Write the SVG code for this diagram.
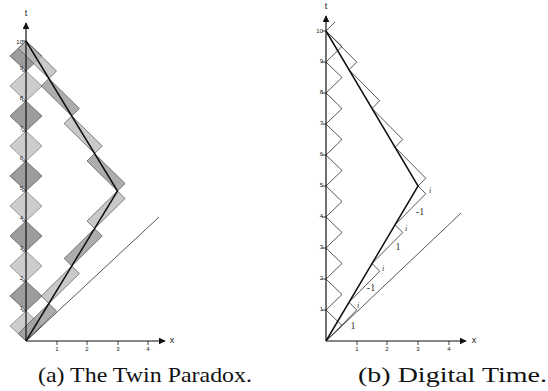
<svg xmlns="http://www.w3.org/2000/svg" width="548" height="391" viewBox="0 0 548 391">
<style>
.axis{stroke:#111;stroke-width:1.2;fill:none}
.tick{stroke:#111;stroke-width:0.8}
.world{stroke:#111;stroke-width:1.5;fill:none}
.light{stroke:#444;stroke-width:0.9;fill:none}
.dl{fill:#cdcdcd;stroke:#777;stroke-width:0.7}
.dd{fill:#9c9c9c;stroke:#555;stroke-width:0.7}
.mv{fill:#999;fill-opacity:0.8;stroke:#555;stroke-width:0.7}
.mvl{fill:#bbb;fill-opacity:0.8;stroke:#555;stroke-width:0.7}
.zig{stroke:#444;stroke-width:0.9;fill:none}
.sm{font-family:"Liberation Sans",Arial,sans-serif;font-size:6px;fill:#222}
.ax{font-family:"Liberation Sans",Arial,sans-serif;font-size:9px;fill:#222}
.lab{font-family:"Liberation Serif","Times New Roman",serif;font-size:10px;fill:#333}
.labi{font-family:"Liberation Serif","Times New Roman",serif;font-size:8px;font-style:italic;fill:#333}
.cap{font-family:"Liberation Serif","Times New Roman",serif;font-size:21px;fill:#111}
</style>
<defs>
<marker id="arr" viewBox="0 0 10 10" refX="9" refY="5" markerWidth="7" markerHeight="7" markerUnits="userSpaceOnUse" orient="auto">
<path d="M0,0 L10,5 L0,10 z" fill="#111"/>
</marker>
</defs>

<!-- Panel (a) -->
<g id="a-stationary">
<polygon class="dl" points="26,341 42,326 26,311 10,326"/>
<polygon class="dd" points="26,311 42,296 26,281 10,296"/>
<polygon class="dl" points="26,281 42,266 26,251 10,266"/>
<polygon class="dd" points="26,251 42,236 26,221 10,236"/>
<polygon class="dl" points="26,221 42,206 26,191 10,206"/>
<polygon class="dd" points="26,191 42,176 26,161 10,176"/>
<polygon class="dl" points="26,161 42,146 26,131 10,146"/>
<polygon class="dd" points="26,131 42,116 26,101 10,116"/>
<polygon class="dl" points="26,101 42,86 26,71 10,86"/>
<polygon class="dd" points="26,71 42,56 26,41 10,56"/>
</g>
<g id="a-moving">
<polygon class="mv" points="26,341 56.5,311 48.9,303.5 18.4,333.5"/>
<polygon class="mvl" points="48.9,303.5 79.4,273.5 71.75,266 41.25,296"/>
<polygon class="mv" points="71.75,266 102.25,236 94.6,228.5 64.1,258.5"/>
<polygon class="mvl" points="94.6,228.5 125.1,198.5 117.5,191 87,221"/>
<polygon class="mv" points="117.5,191 125.1,183.5 94.6,153.5 87,161"/>
<polygon class="mvl" points="94.6,153.5 102.25,146 71.75,116 64.1,123.5"/>
<polygon class="mv" points="71.75,116 79.4,108.5 48.9,78.5 41.25,86"/>
<polygon class="mvl" points="48.9,78.5 56.5,71 26,41 18.4,48.5"/>
</g>
<g id="a-axes">
<line class="axis" x1="26" y1="341" x2="26" y2="23" marker-end="url(#arr)"/>
<line class="axis" x1="26" y1="341" x2="165" y2="341" marker-end="url(#arr)"/>
<text class="ax" x="26" y="16" text-anchor="middle">t</text>
<text class="ax" x="172" y="343" text-anchor="middle">x</text>
<g class="tick">
<line x1="57" y1="341" x2="57" y2="345"/><line x1="87" y1="341" x2="87" y2="345"/><line x1="118" y1="341" x2="118" y2="345"/><line x1="148" y1="341" x2="148" y2="345"/>
<line x1="22" y1="311" x2="26" y2="311"/><line x1="22" y1="281" x2="26" y2="281"/><line x1="22" y1="251" x2="26" y2="251"/><line x1="22" y1="221" x2="26" y2="221"/><line x1="22" y1="191" x2="26" y2="191"/><line x1="22" y1="161" x2="26" y2="161"/><line x1="22" y1="131" x2="26" y2="131"/><line x1="22" y1="101" x2="26" y2="101"/><line x1="22" y1="71" x2="26" y2="71"/><line x1="22" y1="41" x2="26" y2="41"/>
</g>
<text class="sm" x="57" y="351" text-anchor="middle">1</text>
<text class="sm" x="87" y="351" text-anchor="middle">2</text>
<text class="sm" x="118" y="351" text-anchor="middle">3</text>
<text class="sm" x="148" y="351" text-anchor="middle">4</text>
<text class="sm" x="23" y="310" text-anchor="end">1</text>
<text class="sm" x="23" y="280" text-anchor="end">2</text>
<text class="sm" x="23" y="250" text-anchor="end">3</text>
<text class="sm" x="23" y="220" text-anchor="end">4</text>
<text class="sm" x="23" y="190" text-anchor="end">5</text>
<text class="sm" x="23" y="160" text-anchor="end">6</text>
<text class="sm" x="23" y="130" text-anchor="end">7</text>
<text class="sm" x="23" y="100" text-anchor="end">8</text>
<text class="sm" x="23" y="70" text-anchor="end">9</text>
<text class="sm" x="23" y="44" text-anchor="end">10</text>
</g>
<g id="a-lines">
<line class="light" x1="26" y1="341" x2="159" y2="217"/>
<polyline class="world" points="26,341 117.5,191 26,41"/>
</g>

<!-- Panel (b) -->
<g id="b-stationary">
<polyline class="zig" points="326,341 342,325.5 326,310 342,294.5 326,279 342,263.5 326,248 342,232.5 326,217 342,201.5 326,186 342,170.5 326,155 342,139.5 326,124 342,108.5 326,93 342,77.5 326,62 342,46.5 326,31"/>
</g>
<g id="b-moving">
<polyline class="zig" points="326,341 356.7,310 349,302.25 379.7,271.25 372.05,263.5 402.75,232.5 395.1,224.75 425.8,193.75 418.1,186 425.8,178.25 395.1,147.25 402.75,139.5 372.05,108.5 379.7,100.75 349,69.75 356.7,62 326,31 335,22"/>
</g>
<g id="b-axes">
<line class="axis" x1="326" y1="341" x2="326" y2="16" marker-end="url(#arr)"/>
<line class="axis" x1="326" y1="341" x2="466" y2="341" marker-end="url(#arr)"/>
<text class="ax" x="326" y="9" text-anchor="middle">t</text>
<text class="ax" x="474" y="343" text-anchor="middle">x</text>
<g class="tick">
<line x1="357" y1="341" x2="357" y2="345"/><line x1="387" y1="341" x2="387" y2="345"/><line x1="418" y1="341" x2="418" y2="345"/><line x1="449" y1="341" x2="449" y2="345"/>
<line x1="322" y1="310" x2="326" y2="310"/><line x1="322" y1="279" x2="326" y2="279"/><line x1="322" y1="248" x2="326" y2="248"/><line x1="322" y1="217" x2="326" y2="217"/><line x1="322" y1="186" x2="326" y2="186"/><line x1="322" y1="155" x2="326" y2="155"/><line x1="322" y1="124" x2="326" y2="124"/><line x1="322" y1="93" x2="326" y2="93"/><line x1="322" y1="62" x2="326" y2="62"/><line x1="322" y1="31" x2="326" y2="31"/>
</g>
<text class="sm" x="357" y="351" text-anchor="middle">1</text>
<text class="sm" x="387" y="351" text-anchor="middle">2</text>
<text class="sm" x="418" y="351" text-anchor="middle">3</text>
<text class="sm" x="449" y="351" text-anchor="middle">4</text>
<text class="sm" x="323" y="311" text-anchor="end">1</text>
<text class="sm" x="323" y="280" text-anchor="end">2</text>
<text class="sm" x="323" y="249" text-anchor="end">3</text>
<text class="sm" x="323" y="218" text-anchor="end">4</text>
<text class="sm" x="323" y="187" text-anchor="end">5</text>
<text class="sm" x="323" y="156" text-anchor="end">6</text>
<text class="sm" x="323" y="125" text-anchor="end">7</text>
<text class="sm" x="323" y="94" text-anchor="end">8</text>
<text class="sm" x="323" y="63" text-anchor="end">9</text>
<text class="sm" x="323" y="33" text-anchor="end">10</text>
</g>
<g id="b-lines">
<line class="light" x1="326" y1="341" x2="461" y2="213"/>
<polyline class="world" points="326,341 418.1,186 326,31"/>
</g>
<g id="b-labels">
<text class="lab" x="353" y="329" text-anchor="middle">1</text>
<text class="labi" x="358" y="308" text-anchor="middle">i</text>
<text class="lab" x="371" y="291" text-anchor="middle">-1</text>
<text class="labi" x="383" y="271" text-anchor="middle">i</text>
<text class="lab" x="398" y="250" text-anchor="middle">1</text>
<text class="labi" x="406" y="231" text-anchor="middle">i</text>
<text class="lab" x="420" y="215" text-anchor="middle">-1</text>
<text class="labi" x="430" y="193" text-anchor="middle">i</text>
</g>

<g id="captions">
<text class="cap" x="38" y="382" textLength="214" lengthAdjust="spacingAndGlyphs">(a) The Twin Paradox.</text>
<text class="cap" x="358" y="382" textLength="189" lengthAdjust="spacingAndGlyphs">(b) Digital Time.</text>
</g>
</svg>
